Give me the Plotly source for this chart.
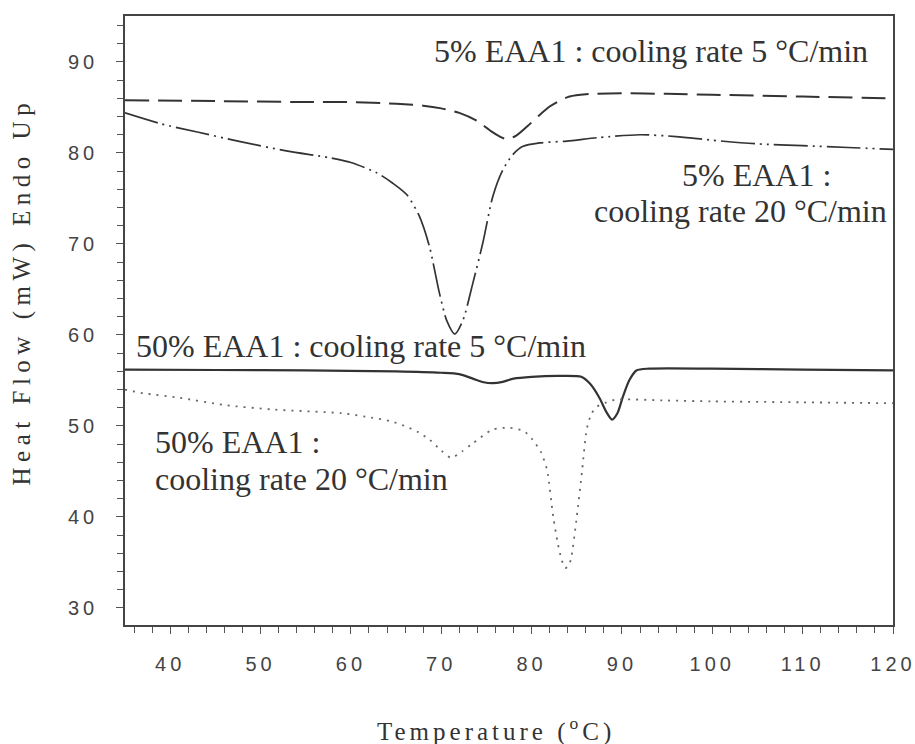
import plotly.graph_objects as go

# DSC cooling scans of EAA1 blends: heat flow (mW, endo up) vs temperature (°C)

# 5% EAA1, cooling rate 5 °C/min
temp_5pct_r5 = [35, 45, 55, 60, 65, 68, 70, 72, 74, 75.5, 76.5, 77.3, 78.3, 79.5,
                80.8, 82, 83.2, 84.2, 86, 90, 95, 100, 110, 120]
flow_5pct_r5 = [85.8, 85.7, 85.6, 85.6, 85.4, 85.2, 84.9, 84.4, 83.5, 82.4, 81.8,
                81.5, 81.9, 82.9, 84.1, 85.1, 85.8, 86.2, 86.45, 86.55, 86.5, 86.4,
                86.2, 86.0]

# 5% EAA1, cooling rate 20 °C/min
temp_5pct_r20 = [35, 39, 43, 47.5, 53, 57.5, 60, 62.9, 64.6, 66.2, 67.6, 68.7, 69.8,
                 70.6, 71.5, 72.4, 73.5, 74.6, 75.7, 76.8, 77.9, 79.0, 80.9, 83.9,
                 87.5, 92, 96, 100, 105, 110, 115, 120]
flow_5pct_r20 = [84.4, 83.2, 82.3, 81.3, 80.2, 79.5, 78.95, 77.8, 76.7, 75.4, 73.0,
                 69.7, 64.6, 61.6, 60.1, 61.6, 65.7, 70.1, 75.2, 78.1, 79.8, 80.7,
                 81.1, 81.3, 81.7, 82.0, 81.8, 81.4, 81.0, 80.8, 80.6, 80.4]

# 50% EAA1, cooling rate 5 °C/min
temp_50pct_r5 = [35, 45, 55, 65, 70, 72, 73.5, 74.7, 75.7, 76.8, 78, 80, 83, 85.5,
                 86.5, 87.5, 88.3, 88.9, 89.5, 90.1, 90.8, 91.6, 93, 100, 110, 120]
flow_50pct_r5 = [56.2, 56.15, 56.1, 56.0, 55.85, 55.7, 55.2, 54.8, 54.7, 54.85, 55.2,
                 55.4, 55.5, 55.4, 54.6, 53.1, 51.5, 50.7, 51.4, 53.2, 55.0, 56.1,
                 56.3, 56.3, 56.2, 56.1]

# 50% EAA1, cooling rate 20 °C/min
temp_50pct_r20 = [35, 37, 41, 46, 51.5, 59, 62.4, 64.5, 66.2, 67.5, 68.7, 70, 71.1,
                  72.3, 73.5, 75.7, 77.6, 79.2, 80.1, 81, 81.7, 82.4, 82.9, 83.3,
                  83.7, 84.1, 84.4, 85.0, 85.6, 86.1, 86.6, 87.2, 88.3, 89.4, 95,
                  100, 110, 120]
flow_50pct_r20 = [54.0, 53.6, 53.1, 52.3, 51.8, 51.4, 50.9, 50.5, 49.9, 49.3, 48.5,
                  47.3, 46.5, 47.2, 48.1, 49.6, 49.8, 49.4, 48.5, 47.2, 45.2, 40.0,
                  37.1, 35.4, 34.4, 34.6, 35.6, 40.0, 45.2, 49.6, 51.3, 52.1, 52.6,
                  52.9, 52.8, 52.7, 52.6, 52.5]

x_ticks = [40, 50, 60, 70, 80, 90, 100, 110, 120]
y_ticks = [30, 40, 50, 60, 70, 80, 90]

INK = "#333333"
SERIF = "Liberation Serif"
SANS = "Liberation Sans"

fig = go.Figure()

series = [
    (temp_5pct_r5, flow_5pct_r5, dict(color=INK, width=2, dash="24px,9px")),
    (temp_5pct_r20, flow_5pct_r20,
     dict(color=INK, width=1.7, dash="34px,5px,2px,5px,2px,5px")),
    (temp_50pct_r5, flow_50pct_r5, dict(color=INK, width=2.2)),
    (temp_50pct_r20, flow_50pct_r20, dict(color="#666666", width=1.8, dash="2px,6px")),
]
for xs, ys, line in series:
    fig.add_trace(go.Scatter(x=xs, y=ys, mode="lines",
                             line=dict(shape="spline", smoothing=0.7, **line),
                             showlegend=False, hoverinfo="skip"))

# curve labels
labels = [
    ("5% EAA1 : cooling rate 5 °C/min", 69.0, 91.2),
    ("5% EAA1 :", 96.4, 77.6),
    ("cooling rate 20 °C/min", 86.7, 73.6),
    ("50% EAA1 : cooling rate 5 °C/min", 36.0, 58.8),
    ("50% EAA1 :", 38.1, 48.2),
    ("cooling rate 20 °C/min", 38.1, 44.2),
]
for text, lx, ly in labels:
    fig.add_annotation(text=text, x=lx, y=ly, xref="x", yref="y",
                       xanchor="left", yanchor="middle", showarrow=False,
                       font=dict(family=SERIF, size=32, color=INK))

# axis titles as annotations so they can be placed freely
fig.add_annotation(text="Heat Flow (mW) Endo Up", x=-0.134, y=0.547,
                   xref="paper", yref="paper", textangle=-90,
                   xanchor="center", yanchor="middle", showarrow=False,
                   font=dict(family=SERIF, size=25, color=INK))
fig.add_annotation(text="Temperature (<sup>o</sup>C)", x=0.483, y=-0.172,
                   xref="paper", yref="paper",
                   xanchor="center", yanchor="middle", showarrow=False,
                   font=dict(family=SERIF, size=25, color=INK))

axis_common = dict(
    showline=True, linecolor="#444444", linewidth=1.5, mirror=True,
    showgrid=False, zeroline=False, automargin=False,
    ticks="outside", ticklen=7, tickwidth=1.2, tickcolor="#555555",
    tickfont=dict(family=SANS, size=20, color="#444444"),
    minor=dict(dtick=2, tick0=0, ticks="outside", ticklen=6,
               tickwidth=1.2, tickcolor="#555555"),
)
fig.update_xaxes(range=[35, 120], tickmode="array", tickvals=x_ticks,
                 ticklabelstandoff=13, **axis_common)
fig.update_yaxes(range=[28.13, 95.05], tickmode="array", tickvals=y_ticks,
                 ticklabelstandoff=14, **axis_common)

fig.update_layout(
    width=915, height=744,
    margin=dict(l=125, r=22, t=16, b=119),
    paper_bgcolor="white", plot_bgcolor="white",
)

# letter-spaced tick labels and axis titles
spacing_js = """
var s = document.createElement('style');
s.textContent = '.xtick text, .ytick text {letter-spacing: 4px;}' +
  '.annotation[data-index="6"] text {letter-spacing: 5.5px;}' +
  '.annotation[data-index="7"] text {letter-spacing: 4px;}';
document.head.appendChild(s);
"""
fig.write_html("out.html", post_script=spacing_js)
